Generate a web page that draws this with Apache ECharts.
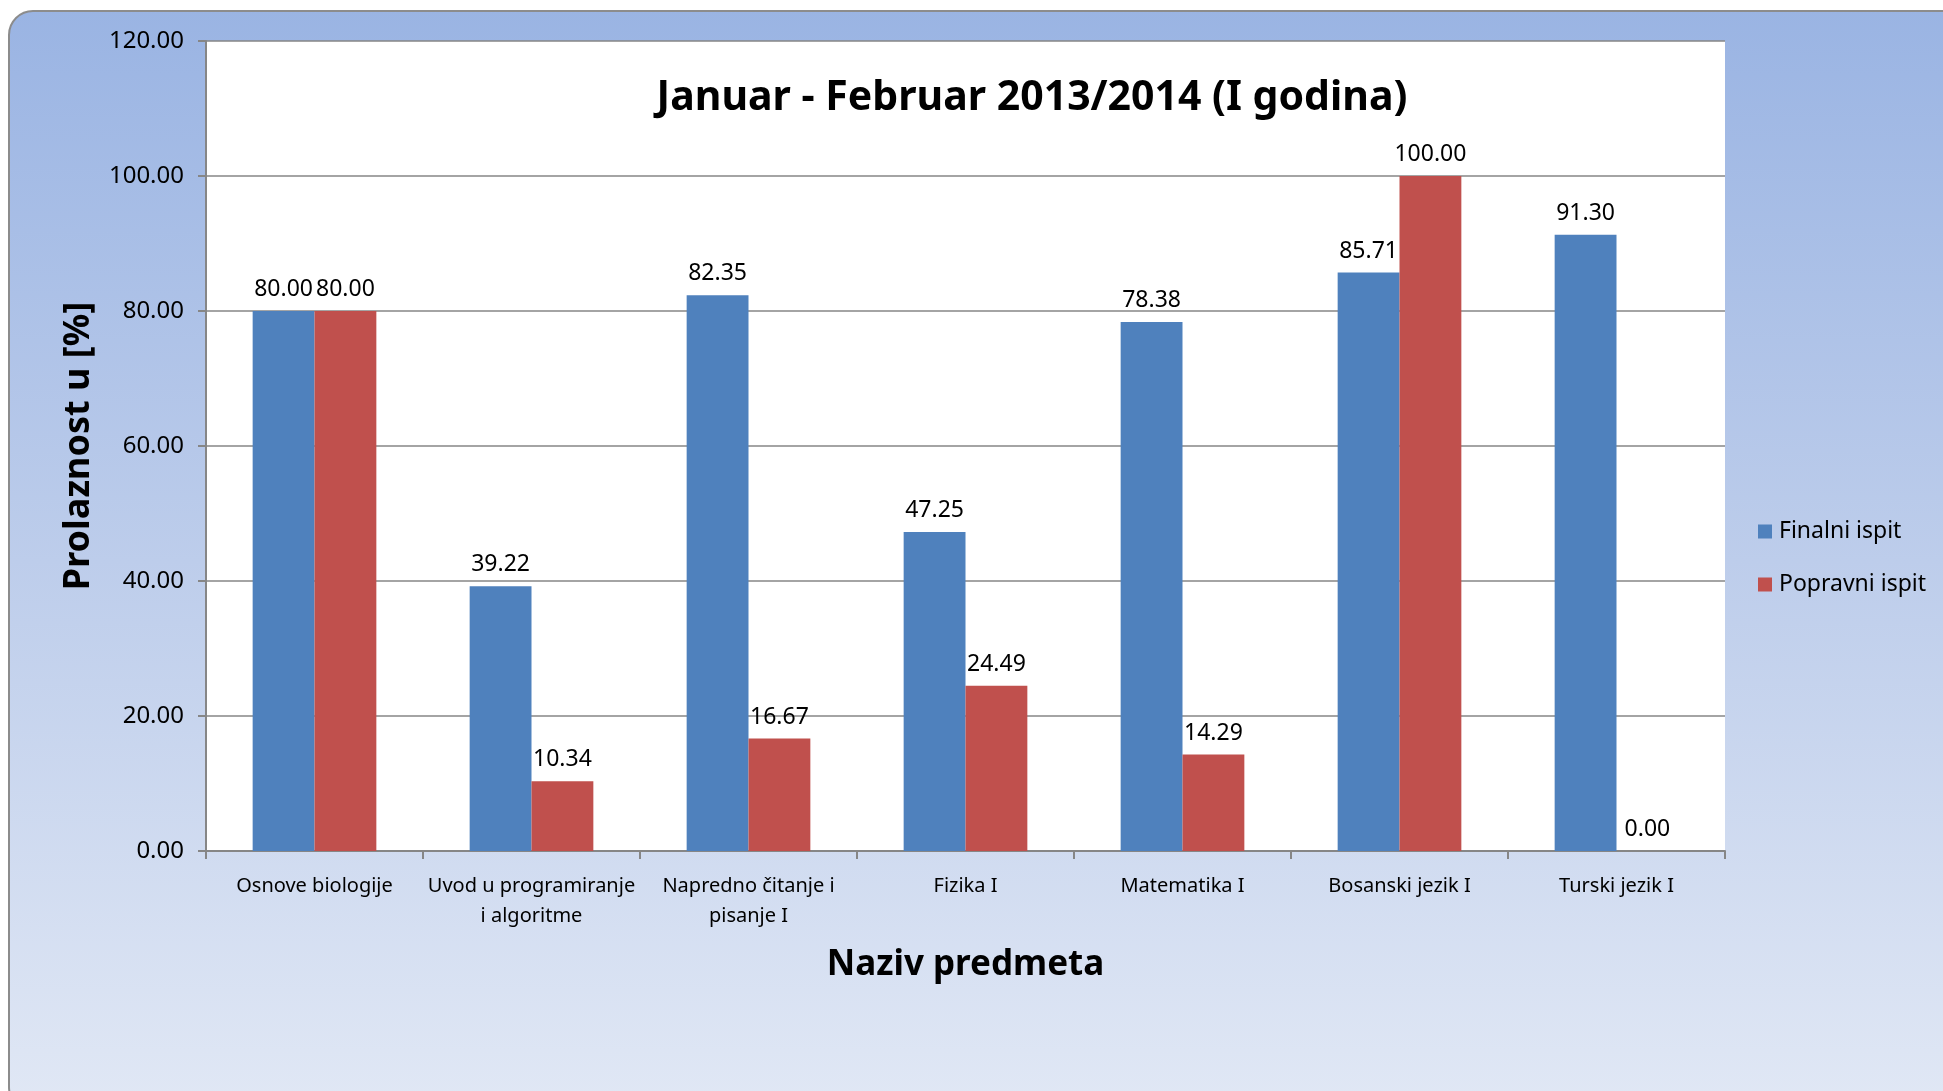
<!DOCTYPE html>
<html>
<head>
<meta charset="utf-8">
<script src="https://cdn.jsdelivr.net/npm/echarts@6/dist/echarts.min.js"></script>
<style>
  html, body { margin: 0; padding: 0; background: #fff; }
  #chart { width: 1943px; height: 1091px; }
</style>
</head>
<body>
<div id="chart"></div>
<script>
// podaci
const predmeti = ['Osnove biologije', 'Uvod u programiranje\ni algoritme', 'Napredno čitanje i\npisanje I', 'Fizika I', 'Matematika I', 'Bosanski jezik I', 'Turski jezik I']
const finalni = [80.00, 39.22, 82.35, 47.25, 78.38, 85.71, 91.30]
const popravni = [80.00, 10.34, 16.67, 24.49, 14.29, 100.00, 0.00]
const yTicks = [0, 20, 40, 60, 80, 100, 120]

const FONT = '"Noto Sans", "Open Sans", sans-serif'

const myChart = echarts.init(document.getElementById('chart'))

const labelOpt = {
  show: true,
  position: 'top',
  distance: 10,
  color: '#000',
  fontFamily: FONT,
  fontSize: 23,
  formatter: p => p.value.toFixed(2)
}

const option = {
  animation: false,
  textStyle: { fontFamily: FONT },
  graphic: [
    {
      type: 'rect',
      z: -10,
      shape: { x: 9, y: 11, width: 1960, height: 1100, r: 24 },
      style: {
        fill: new echarts.graphic.LinearGradient(0, 0, 0, 1, [
          { offset: 0, color: '#9ab4e3' },
          { offset: 0.5, color: '#bdcdeb' },
          { offset: 1, color: '#e1e8f5' }
        ]),
        stroke: '#8c8c8c',
        lineWidth: 2
      }
    }
  ],
  title: {
    text: 'Januar - Februar 2013/2014 (I godina)',
    left: 1027,
    textAlign: 'center',
    top: 73,
    textStyle: { fontFamily: FONT, fontSize: 41, fontWeight: 'bold', color: '#000' }
  },
  legend: {
    orient: 'vertical',
    left: 1758,
    top: 520,
    padding: 0,
    itemWidth: 14,
    itemHeight: 14,
    itemGap: 30,
    icon: 'rect',
    textStyle: { fontFamily: FONT, fontSize: 23, color: '#000', padding: [0, 0, 0, 2] },
    data: ['Finalni ispit', 'Popravni ispit']
  },
  grid: {
    left: 206,
    right: 218,
    top: 41,
    bottom: 240,
    show: true,
    backgroundColor: '#fff',
    borderWidth: 0,
    outerBoundsMode: 'none'
  },
  xAxis: {
    type: 'category',
    data: predmeti,
    name: 'Naziv predmeta',
    nameLocation: 'middle',
    nameGap: 97,
    nameTextStyle: { fontFamily: FONT, fontSize: 35, fontWeight: 'bold', color: '#000' },
    axisLine: { lineStyle: { color: '#868686', width: 2 } },
    axisTick: { show: true, length: 8, lineStyle: { color: '#868686', width: 2 } },
    axisLabel: { color: '#000', fontFamily: FONT, fontSize: 20, margin: 20, lineHeight: 30, interval: 0 }
  },
  yAxis: {
    type: 'value',
    min: yTicks[0],
    max: yTicks[yTicks.length - 1],
    interval: 20,
    name: 'Prolaznost u [%]',
    nameLocation: 'middle',
    nameGap: 109,
    nameRotate: 90,
    nameTextStyle: { fontFamily: FONT, fontSize: 36, fontWeight: 'bold', color: '#000' },
    axisLine: { show: true, lineStyle: { color: '#868686', width: 2 } },
    axisTick: { show: true, length: 8, lineStyle: { color: '#868686', width: 2 } },
    splitLine: { lineStyle: { color: '#868686', width: 1.5 } },
    axisLabel: { color: '#000', fontFamily: FONT, fontSize: 24, margin: 22, formatter: v => v.toFixed(2) }
  },
  series: [
    {
      name: 'Finalni ispit',
      type: 'bar',
      data: finalni,
      barGap: '0%',
      barCategoryGap: '43%',
      itemStyle: { color: '#4f81bd' },
      label: labelOpt
    },
    {
      name: 'Popravni ispit',
      type: 'bar',
      data: popravni,
      itemStyle: { color: '#c0504d' },
      label: labelOpt
    }
  ]
}

myChart.setOption(option)
window.onresize = () => { myChart.resize() }
</script>
</body>
</html>
